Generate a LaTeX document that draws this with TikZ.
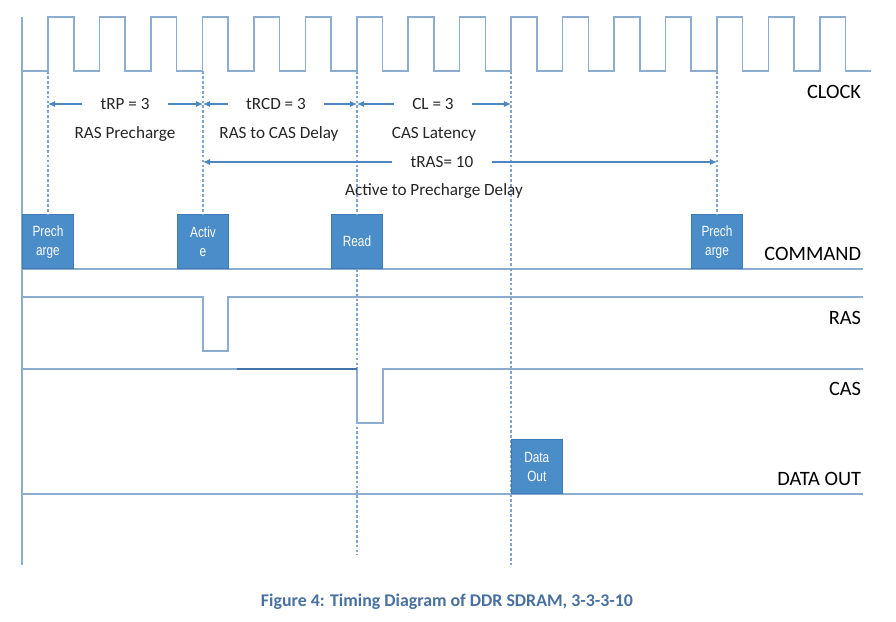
\documentclass[tikz,border=0pt]{standalone}
\usepackage{fontspec}
\setmainfont{Carlito}
\newfontfamily\boxfont[FakeStretch=0.8]{Liberation Sans}
\usetikzlibrary{arrows.meta}
\definecolor{sigline}{RGB}{140,172,208}
\definecolor{guideblue}{RGB}{130,165,205}
\definecolor{arrowblue}{RGB}{78,134,196}
\definecolor{boxblue}{RGB}{74,141,201}
\definecolor{boxedge}{RGB}{62,122,182}
\definecolor{capblue}{RGB}{72,112,160}
\begin{document}
\begin{tikzpicture}[x=0.025cm,y=-0.025cm,
    sig/.style={draw=sigline, line width=1.1pt},
    guide/.style={draw=guideblue, dash pattern=on 2pt off 1.5pt, line width=0.9pt},
    dim/.style={draw=arrowblue, line width=0.8pt, -{Latex[length=5pt,width=4.5pt]}},
    cmd/.style={fill=boxblue, draw=boxedge, minimum width=1.275cm, minimum height=1.35cm,
        inner sep=0pt, align=center, text=white, anchor=south,
        font=\boxfont\fontsize{10.5}{13.5}\selectfont},
    lbl/.style={anchor=east, font=\fontsize{14.5}{17}\selectfont},
    txt/.style={text=black!85, font=\fontsize{12.2}{15}\selectfont},
    gap/.style={txt, inner xsep=0.45cm}]
    \fill[white] (0,0) rectangle (896,621);
    \useasboundingbox (0,0) rectangle (896,621);
    \coordinate (tA) at (48,71);
    \coordinate (tB) at (203,71);
    \coordinate (tC) at (357,71);
    \coordinate (tD) at (511,71);
    \coordinate (tE) at (717,71);
    \draw[sig] (22,17) -- (22,565);
    \draw[sig] (22,71) -- (48,71)
        \foreach \i in {0,...,15} { -- ++(0,-54) -- ++(25.73,0) -- ++(0,54) -- ++(25.73,0) };
    \node[lbl] (clk) at (866,92) {CLOCK};
    % command row
    \draw[sig] (22,269) -- (863,269);
    \node[cmd] (pre1) at (48,269) {Prech\\arge};
    \node[cmd] (act) at (203,269) {Activ\\e};
    \node[cmd] (rd) at (357,269) {Read};
    \node[cmd] (pre2) at (717,269) {Prech\\arge};
    \node[lbl] (cmdl) at (866,254) {COMMAND};
    \draw[guide] (tA) -- (pre1.north);
    \draw[guide] (tB) -- (act.north);
    \draw[guide] (tC) -- (rd.north);
    \draw[guide] (rd.south) -- (357,555);
    \draw[guide] (tD) -- (511,565);
    \draw[guide] (tE) -- (pre2.north);
    % timing spans
    \node[gap] (trp) at (125,104) {tRP = 3};
    \node[gap] (trcd) at (276,104) {tRCD = 3};
    \node[gap] (cl) at (433,104) {CL = 3};
    \draw[dim] (trp.west) -- (trp.west -| tA);
    \draw[dim] (trp.east) -- (trp.east -| tB);
    \draw[dim] (trcd.west) -- (trcd.west -| tB);
    \draw[dim] (trcd.east) -- (trcd.east -| tC);
    \draw[dim] (cl.west) -- (cl.west -| tC);
    \draw[dim] (cl.east) -- (cl.east -| tD);
    \node[txt] (rp) at (125,134) {RAS Precharge};
    \node[txt] (rcd) at (279,134) {RAS to CAS Delay};
    \node[txt] (lat) at (434,134) {CAS Latency};
    \node[gap] (tras) at (442,162) {tRAS= 10};
    \draw[dim] (tras.west) -- (tras.west -| tB);
    \draw[dim] (tras.east) -- (tras.east -| tE);
    \node[txt] (apd) at (434,191) {Active to Precharge Delay};
    % RAS / CAS / data
    \draw[sig] (22,297) -- (203,297) -- (203,351) -- (228,351) -- (228,297) -- (863,297);
    \node[lbl] (rasl) at (866,318) {RAS};
    \draw[sig] (22,369) -- (357,369) -- (357,423) -- (383,423) -- (383,369) -- (863,369);
    \draw[draw=arrowblue!85!black, line width=1.5pt] (237,369) -- (357,369);
    \node[lbl] (casl) at (866,389) {CAS};
    \draw[sig] (22,494) -- (863,494);
    \node[cmd, anchor=south west] (dout) at (511,494) {Data\\Out};
    \node[lbl] (doutl) at (866,479) {DATA OUT};
    \node[text=capblue, font=\bfseries\fontsize{12.7}{15}\selectfont] (cap) at (447,602)
        {Figure 4: Timing Diagram of DDR SDRAM, 3-3-3-10};
\end{tikzpicture}
\end{document}
